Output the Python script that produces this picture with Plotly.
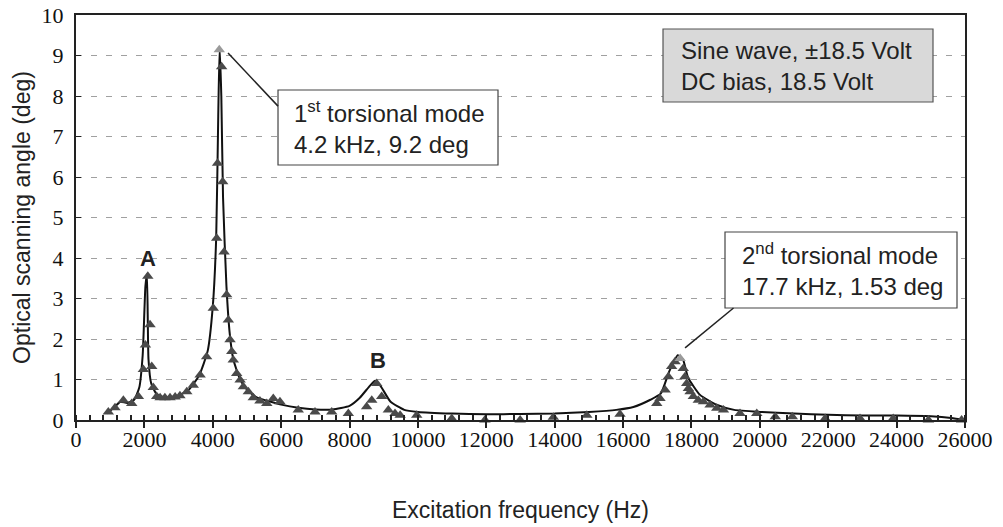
import plotly.graph_objects as go

# Fitted curve (Hz, deg)
line_freq = [900, 1100, 1300, 1500, 1700, 1850, 1950, 2030, 2075, 2120, 2200, 2350, 2600, 3000, 3300, 3600,
             3850, 4000, 4100, 4160, 4200, 4250, 4300, 4400, 4500, 4600, 4800, 5000, 5300, 5700, 6000,
             6500, 7000, 7500, 8000, 8300, 8600, 8750, 8900, 9200, 9600, 10000, 11000, 12000, 13000,
             14000, 15000, 15800, 16300, 16800, 17100, 17350, 17600, 17750, 17900, 18250, 18750, 19250,
             20000, 21000, 22000, 23000, 24000, 25000, 25600, 26000]
line_val = [0.16, 0.30, 0.45, 0.42, 0.50, 0.80, 1.60, 3.30, 3.60, 1.50, 0.90, 0.65, 0.55, 0.60, 0.75, 1.10,
            1.70, 2.80, 4.50, 7.50, 9.20, 8.00, 5.50, 3.30, 2.10, 1.50, 1.00, 0.75, 0.55, 0.45, 0.38,
            0.30, 0.26, 0.26, 0.35, 0.55, 0.85, 0.97, 0.85, 0.45, 0.25, 0.20, 0.16, 0.14, 0.15,
            0.16, 0.20, 0.25, 0.32, 0.50, 0.65, 1.20, 1.60, 1.50, 1.05, 0.62, 0.37, 0.25,
            0.20, 0.16, 0.13, 0.11, 0.11, 0.09, 0.05, 0.00]

# Measured points (Hz, deg)
meas_freq = [945, 1140, 1385, 1630, 1825, 1970, 2030, 2100, 2165, 2215, 2260, 2360, 2460, 2600, 2750, 2900,
             3040, 3240, 3430, 3630, 3820, 4015, 4115, 4140, 4190, 4260, 4290, 4330, 4405, 4455, 4505,
             4555, 4600, 4700, 4800, 4895, 5040, 5185, 5380, 5580, 5770, 5965, 6500, 6990, 7480, 7965,
             8500, 8650, 8795, 8940, 9135, 9330, 9480, 9965, 10990, 11960, 12990, 13960, 14940, 15910,
             16985, 17080, 17230, 17325, 17420, 17520, 17670, 17760, 17810, 17860, 17910, 17960, 18055,
             18200, 18350, 18545, 18740, 18935, 19420, 19910, 20450, 20950, 21910, 22930, 23900, 24930, 25900]
meas_val = [0.20, 0.30, 0.49, 0.41, 0.58, 1.25, 1.85, 3.55, 2.35, 1.32, 0.80, 0.58, 0.55, 0.55, 0.55, 0.57,
            0.60, 0.70, 0.86, 1.11, 1.56, 2.76, 4.49, 6.34, 9.14, 8.72, 5.88, 4.15, 3.09, 2.47, 1.98,
            1.69, 1.48, 1.15, 0.99, 0.82, 0.70, 0.55, 0.47, 0.41, 0.53, 0.45, 0.25, 0.20, 0.20, 0.16,
            0.33, 0.49, 0.90, 0.58, 0.25, 0.16, 0.12, 0.12, 0.04, 0.00, 0.00, 0.07, 0.12, 0.14,
            0.41, 0.53, 0.74, 1.07, 1.32, 1.44, 1.52, 1.27, 1.07, 0.90, 0.78, 0.70, 0.58,
            0.49, 0.45, 0.37, 0.29, 0.25, 0.16, 0.16, 0.08, 0.08, 0.04, 0.04, 0.04, 0.00, 0.00]
highlight = [4190, 17670]

x_ticks = list(range(0, 26001, 2000))
x_ticktext = [str(v) for v in x_ticks]
y_ticks = list(range(0, 11))

serif = "Liberation Serif, Times New Roman, serif"
sans = "Liberation Sans, Arial, sans-serif"

marker_colors = ["#9a9a9a" if f in highlight else "#4a4a4a" for f in meas_freq]

fig = go.Figure()
fig.add_trace(go.Scatter(x=line_freq, y=line_val, mode="lines",
                         line=dict(color="#111111", width=2, shape="spline", smoothing=0.5),
                         showlegend=False, hoverinfo="skip"))
fig.add_trace(go.Scatter(x=meas_freq, y=meas_val, mode="markers",
                         marker=dict(symbol="triangle-up", size=10, color=marker_colors,
                                     line=dict(width=0)),
                         showlegend=False, cliponaxis=False))

# Callout boxes (frames) and their texts
fig.add_shape(type="rect", x0=5908, x1=12342, y0=6.296, y1=8.148, xref="x", yref="y",
              line=dict(color="#444444", width=1.2), fillcolor="white", layer="above")
fig.add_shape(type="rect", x0=17168, x1=25064, y0=7.852, y1=9.654, xref="x", yref="y",
              line=dict(color="#555555", width=1.2), fillcolor="#d9d9d9", layer="above")
fig.add_shape(type="rect", x0=18981, x1=25766, y0=2.765, y1=4.642, xref="x", yref="y",
              line=dict(color="#444444", width=1.2), fillcolor="white", layer="above")
fig.add_shape(type="line", x0=4446, y0=9.06, x1=5908, y1=7.75, xref="x", yref="y",
              line=dict(color="#222222", width=1.5))
fig.add_shape(type="line", x0=17813, y0=1.78, x1=19230, y1=2.765, xref="x", yref="y",
              line=dict(color="#222222", width=1.5))

box_font = dict(family=sans, size=24, color="#222222")
fig.add_annotation(x=6317, y=7.22, xref="x", yref="y", xanchor="left", yanchor="middle",
                   text="1<sup>st</sup> torsional mode<br>4.2 kHz, 9.2 deg", showarrow=False,
                   align="left", font=box_font)
fig.add_annotation(x=17636, y=8.753, xref="x", yref="y", xanchor="left", yanchor="middle",
                   text="Sine wave, \u00b118.5 Volt<br>DC bias, 18.5 Volt", showarrow=False,
                   align="left", font=box_font)
fig.add_annotation(x=19420, y=3.704, xref="x", yref="y", xanchor="left", yanchor="middle",
                   text="2<sup>nd</sup> torsional mode<br>17.7 kHz, 1.53 deg", showarrow=False,
                   align="left", font=box_font)

fig.add_annotation(x=2106, y=4.0, xref="x", yref="y", text="<b>A</b>", showarrow=False,
                   font=dict(family=sans, size=22, color="#222222"))
fig.add_annotation(x=8834, y=1.48, xref="x", yref="y", text="<b>B</b>", showarrow=False,
                   font=dict(family=sans, size=22, color="#222222"))

fig.update_xaxes(range=[0, 26000], tickvals=x_ticks, ticktext=x_ticktext, ticks="outside", ticklen=6,
                 tickwidth=1.5, tickcolor="#222222", showline=True, linecolor="#222222", linewidth=2,
                 mirror=True, showgrid=False, zeroline=False, ticklabelstandoff=-7,
                 ticklabeloverflow="allow",
                 tickfont=dict(family=serif, size=22, color="#111111"),
                 minor=dict(dtick=400, ticks="inside", ticklen=5, tickcolor="#222222", showgrid=False),
                 title=dict(text="Excitation frequency (Hz)", font=dict(family=sans, size=23, color="#222222"),
                            standoff=50),
                 automargin=False)
fig.update_yaxes(range=[0, 10], tickvals=y_ticks, ticks="inside", ticklen=5, tickcolor="#222222",
                 showline=True, linecolor="#222222", linewidth=2, mirror=True,
                 showgrid=True, gridcolor="#a0a0a0", griddash="6px,9px", gridwidth=1, zeroline=False,
                 tickfont=dict(family=serif, size=22, color="#111111"), ticklabelstandoff=6,
                 ticklabeloverflow="allow",
                 title=dict(text="Optical scanning angle (deg)", font=dict(family=sans, size=23, color="#222222"),
                            standoff=5),
                 automargin=False)

fig.update_layout(width=1003, height=527, margin=dict(l=76, r=38, t=15, b=107),
                  plot_bgcolor="white", paper_bgcolor="white", showlegend=False)

# remove the default 8px page margin so the figure fills the window exactly
fig.write_html("out.html", config={"displayModeBar": False},
               post_script="document.body.style.margin='0px';")
